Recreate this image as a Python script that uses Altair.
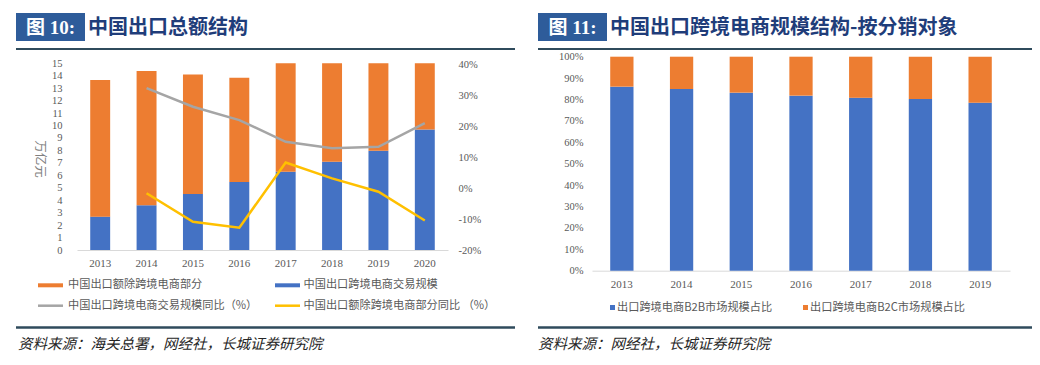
import altair as alt
import pandas as pd

# ---------------- data ----------------
years_left = ["2013", "2014", "2015", "2016", "2017", "2018", "2019", "2020"]
ecom_trade = [2.68, 3.59, 4.50, 5.46, 6.29, 7.09, 7.98, 9.69]          # 万亿元
non_ecom_trade = [10.97, 10.79, 9.60, 8.38, 9.04, 9.33, 9.25, 8.24]    # 万亿元
ecom_yoy = [None, 32.2, 26.2, 21.9, 14.9, 12.8, 13.3, 20.9]            # %
non_ecom_yoy = [None, -1.7, -10.9, -12.8, 8.2, 3.1, -1.2, -10.5]       # %

years_right = ["2013", "2014", "2015", "2016", "2017", "2018", "2019"]
b2b_share = [86.0, 84.9, 83.2, 81.8, 80.8, 80.2, 78.5]
b2c_share = [14.0, 15.1, 16.8, 18.2, 19.2, 19.8, 21.5]

left_bar_series = ["中国出口跨境电商交易规模", "中国出口额除跨境电商部分"]
left_line_series = ["中国出口跨境电商交易规模同比（%）", "中国出口额除跨境电商部分同比 （%）"]
right_series = ["出口跨境电商B2B市场规模占比", "出口跨境电商B2C市场规模占比"]

titles = ["中国出口总额结构", "中国出口跨境电商规模结构-按分销对象"]
fig_labels = ["图 10:", "图 11:"]
sources = ["资料来源：海关总署，网经社，长城证券研究院", "资料来源：网经社，长城证券研究院"]
unit_label = "万亿元"

# ---------------- styles ----------------
BLUE = "#4472C4"
ORANGE = "#ED7D31"
GRAY = "#A5A5A5"
YELLOW = "#FFC000"
BOX = "#2E5C9A"
TITLE_C = "#1F3D7A"
RULE_C = "#2F4B5C"
LAB_C = "#595959"
SERIF = "Liberation Serif, Noto Sans CJK SC"
CJK = "Noto Sans CJK SC"

W, H = 1024, 349

# ---------------- tables ----------------
lb_rows = []
for i, y in enumerate(years_left):
    lb_rows.append({"year": y, "series": left_bar_series[0], "value": ecom_trade[i], "ord": 0})
    lb_rows.append({"year": y, "series": left_bar_series[1], "value": non_ecom_trade[i], "ord": 1})
lb_df = pd.DataFrame(lb_rows)

ll_rows = []
for i, y in enumerate(years_left):
    if ecom_yoy[i] is not None:
        ll_rows.append({"year": y, "series": left_line_series[0], "pct": ecom_yoy[i]})
for i, y in enumerate(years_left):
    if non_ecom_yoy[i] is not None:
        ll_rows.append({"year": y, "series": left_line_series[1], "pct": non_ecom_yoy[i]})
ll_df = pd.DataFrame(ll_rows)

rb_rows = []
for i, y in enumerate(years_right):
    rb_rows.append({"year2": y, "series2": right_series[0], "share": b2b_share[i], "ord": 0})
    rb_rows.append({"year2": y, "series2": right_series[1], "share": b2c_share[i], "ord": 1})
rb_df = pd.DataFrame(rb_rows)

dummy = pd.DataFrame({"k": [0]})

# ---------------- left panel ----------------
left_bars = alt.Chart(lb_df).mark_bar().encode(
    x=alt.X("year:N",
            scale=alt.Scale(domain=years_left, range=[69, 440], paddingInner=0.57, paddingOuter=0.285),
            axis=alt.Axis(orient="bottom", offset=-(H - 242), title=None, labelAngle=0,
                          domainColor="#D9D9D9", domainWidth=1, ticks=False, tickSize=0,
                          labelPadding=7, labelFontSize=11)),
    y=alt.Y("value:Q", stack="zero",
            scale=alt.Scale(domain=[0, 15], range=[242, 55.3], clamp=True, nice=False),
            axis=alt.Axis(orient="left", offset=-69, values=list(range(16)), domain=False,
                          ticks=False, tickSize=0, grid=False, labelPadding=15, title=None,
                          labelFontSize=10.5)),
    color=alt.Color("series:N", scale=alt.Scale(domain=left_bar_series, range=[BLUE, ORANGE]), legend=None),
    order=alt.Order("ord:Q"),
)

left_lines = alt.Chart(ll_df).mark_line(strokeWidth=2.5).encode(
    x=alt.X("year:N", scale=alt.Scale(type="point", domain=years_left, range=[69, 440], padding=0.5), axis=None),
    y=alt.Y("pct:Q",
            scale=alt.Scale(domain=[-20, 40], range=[242, 56], nice=False, zero=False),
            axis=alt.Axis(orient="right", offset=440 - W, values=list(range(-20, 41, 10)),
                          labelExpr="datum.value + '%'", domain=False, ticks=False, tickSize=0,
                          grid=False, labelPadding=10, title=None, labelFontSize=10.5)),
    color=alt.Color("series:N", scale=alt.Scale(domain=left_line_series, range=[GRAY, YELLOW]), legend=None),
)

# ---------------- right panel ----------------
right_bars = alt.Chart(rb_df).mark_bar().encode(
    x=alt.X("year2:N",
            scale=alt.Scale(domain=years_right, range=[584, 1002], paddingInner=0.61, paddingOuter=0.305),
            axis=alt.Axis(orient="bottom", offset=-(H - 262.7), title=None, labelAngle=0,
                          domainColor="#D9D9D9", domainWidth=1, ticks=False, tickSize=0,
                          labelPadding=8, labelFontSize=11)),
    y=alt.Y("share:Q", stack="zero",
            scale=alt.Scale(domain=[0, 100], range=[262.7, 48.7], nice=False),
            axis=alt.Axis(orient="left", offset=-584, values=list(range(0, 101, 10)),
                          labelExpr="datum.value + '%'", domain=False, ticks=False, tickSize=0,
                          grid=False, labelPadding=9, title=None, labelFontSize=10.5)),
    color=alt.Color("series2:N", scale=alt.Scale(domain=right_series, range=[BLUE, ORANGE]), legend=None),
    order=alt.Order("ord:Q"),
)


# ---------------- decorations ----------------
def txt(s, x, y, align="left", **kw):
    return alt.Chart(dummy).mark_text(text=s, align=align, baseline="middle", **kw).encode(
        x=alt.value(x), y=alt.value(y))


def box(x, x2, y, y2, color):
    return alt.Chart(dummy).mark_rect(color=color).encode(
        x=alt.value(x), x2=alt.value(x2), y=alt.value(y), y2=alt.value(y2))


def hline(x, x2, y, color, width):
    return alt.Chart(dummy).mark_rule(color=color, strokeWidth=width).encode(
        x=alt.value(x), x2=alt.value(x2), y=alt.value(y))


deco = [
    # headers
    box(8, 77, 5, 33, BOX),
    txt(fig_labels[0], 42.5, 19.5, align="center", font=SERIF, fontSize=19, fontWeight="bold", color="white"),
    txt(titles[0], 80, 19.5, font=CJK, fontSize=20, fontWeight="bold", color=TITLE_C),
    hline(8, 507, 41, RULE_C, 2),
    box(530, 599, 5, 33, BOX),
    txt(fig_labels[1], 564.5, 19.5, align="center", font=SERIF, fontSize=19, fontWeight="bold", color="white"),
    txt(titles[1], 602, 19.5, font=CJK, fontSize=20, fontWeight="bold", color=TITLE_C),
    hline(530, 1027, 41, RULE_C, 2),
    # unit
    alt.Chart(dummy).mark_text(text=unit_label, angle=90, align="center", baseline="middle",
                               font=CJK, fontSize=12.5, color="#7F7F7F").encode(
        x=alt.value(32), y=alt.value(151)),
    # left legend
    box(30, 55, 275.3, 279.3, ORANGE),
    txt(left_bar_series[1], 60, 277.3, font=CJK, fontSize=11.2, color=LAB_C),
    box(267, 292, 275.3, 279.3, BLUE),
    txt(left_bar_series[0], 295.5, 277.3, font=CJK, fontSize=11.2, color=LAB_C),
    hline(30, 55, 297.7, GRAY, 2.5),
    txt(left_line_series[0], 60, 297.7, font=CJK, fontSize=11.2, color=LAB_C),
    hline(267, 292, 297.7, YELLOW, 2.5),
    txt(left_line_series[1], 295.5, 297.7, font=CJK, fontSize=11.2, color=LAB_C),
    # right legend
    box(602, 607, 297, 302, BLUE),
    txt(right_series[0], 609, 299.5, font=CJK, fontSize=11.2, color=LAB_C),
    box(795, 800, 297, 302, ORANGE),
    txt(right_series[1], 802, 299.5, font=CJK, fontSize=11.2, color=LAB_C),
    # footers
    hline(8, 507, 319.5, RULE_C, 2.5),
    hline(530, 1027, 319.5, RULE_C, 2.5),
    txt(sources[0], 10, 337, font=CJK, fontSize=14.5, fontStyle="italic", color="#262626"),
    txt(sources[1], 530, 337, font=CJK, fontSize=14.5, fontStyle="italic", color="#262626"),
]

chart = alt.layer(left_bars, left_lines, right_bars, *deco).resolve_scale(
    x="independent", y="independent", color="independent"
).properties(
    width=W, height=H, autosize=alt.AutoSizeParams(type="none"), padding=0, background="white"
).configure_view(stroke=None).configure_axis(
    labelFont=SERIF, labelColor=LAB_C
)

chart.save("out.html", embed_options={"renderer": "svg", "actions": False})
